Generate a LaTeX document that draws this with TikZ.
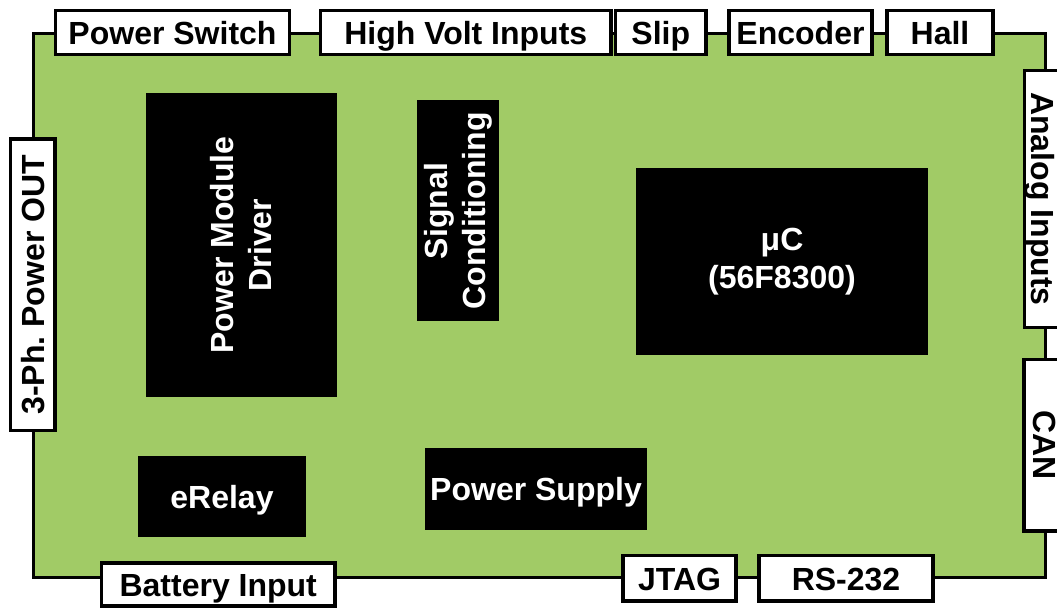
\documentclass[tikz,border=0pt]{standalone}
\usepackage{fontspec}
\setmainfont{Liberation Sans}
\usepackage{tikz}
\usepackage{xcolor}
\definecolor{BoardGreen}{RGB}{161,203,102}

\begin{document}
\begin{tikzpicture}[x=1pt, y=-1pt,
  port/.style={draw, fill=white, line width=3.6pt, inner sep=0pt,
    text height=24pt, text depth=0pt, font=\fontsize{32}{38}\selectfont\bfseries},
  chip/.style={fill=black, text=white, inner sep=0pt, align=center,
    font=\fontsize{32}{38}\selectfont\bfseries}]
  \useasboundingbox[fill=white] (0,0) rectangle (1057,609);

  % board
  \node[draw, fill=BoardGreen, line width=3.6pt, minimum width=1012pt, minimum height=544pt] (board) at (539.5,305.5) {};

  % parts on the board
  \node[chip, rotate=90, minimum width=304pt, minimum height=191pt] (pmd) at (241,245) {Power Module\\Driver};
  \node[chip, rotate=90, minimum width=221pt, minimum height=82pt] (sigcond) at (458,211) {Signal\\Conditioning};
  \node[chip, minimum width=292pt, minimum height=187pt] (uc) at (782,261.5) {μC\\(56F8300)};
  \node[chip, minimum width=168pt, minimum height=81pt, text height=24pt, text depth=0pt] (erelay) at (222,496.5) {eRelay};
  \node[chip, minimum width=222pt, minimum height=82pt, text height=22pt, text depth=0pt] (psupply) at (536,489) {Power Supply};

  % connectors, top
  \node[port, minimum width=234pt, minimum height=44pt] (pswitch) at (172.5,32.5) {Power Switch};
  \node[port, minimum width=290.5pt, minimum height=44pt] (hvin) at (465.75,32.5) {High Volt Inputs};
  \node[port, minimum width=90.5pt, minimum height=44pt] (slip) at (660.75,32.5) {Slip};
  \node[port, minimum width=143pt, minimum height=44pt] (encoder) at (800.5,32.5) {Encoder};
  \node[port, minimum width=106pt, minimum height=44pt] (hall) at (940,32.5) {Hall};

  % connectors, sides
  \node[port, rotate=90, minimum width=291.5pt, minimum height=44.5pt] (threeph) at (32.75,284.75) {3-Ph.\ Power OUT};
  \node[port, rotate=-90, minimum width=257pt, minimum height=37pt] (analog) at (1043,199) {Analog Inputs};
  \node[port, rotate=-90, minimum width=171.5pt, minimum height=42pt] (can) at (1045,445.25) {CAN};

  % connectors, bottom
  \node[port, minimum width=233.5pt, minimum height=43pt] (battery) at (218.25,584.5) {Battery Input};
  \node[port, minimum width=113pt, minimum height=45.5pt] (jtag) at (679.5,578.25) {JTAG};
  \node[port, minimum width=174pt, minimum height=45.5pt] (rs232) at (846,578.25) {RS-232};
\end{tikzpicture}
\end{document}
